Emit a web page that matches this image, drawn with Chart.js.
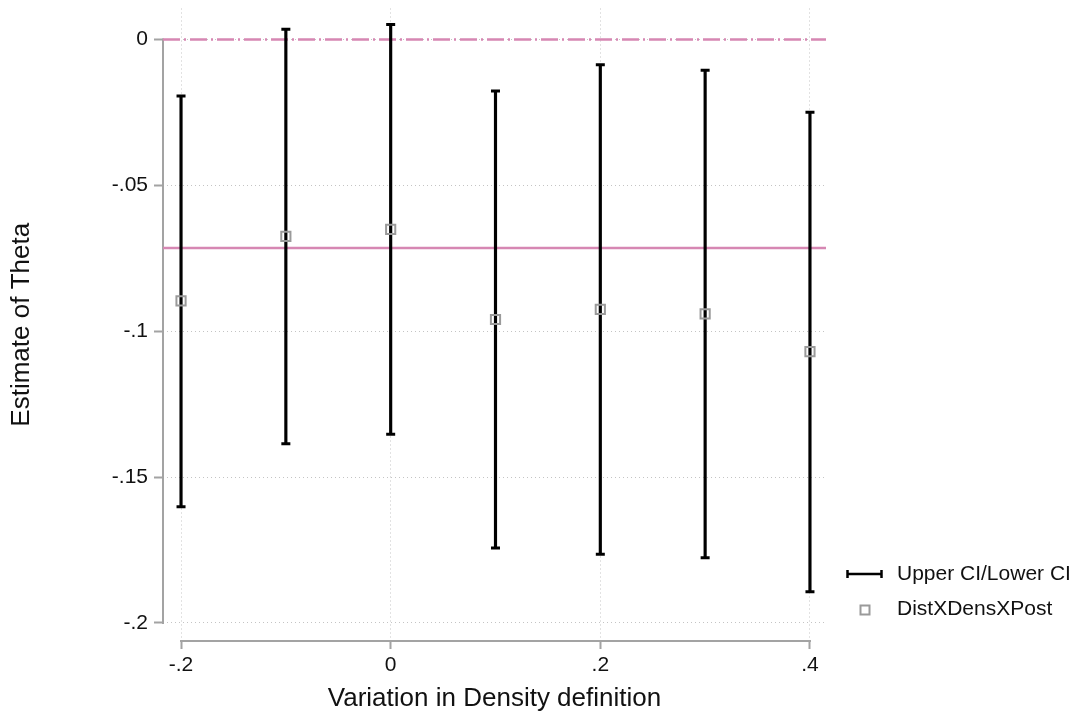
<!DOCTYPE html>
<html>
<head>
<meta charset="utf-8">
<script src="https://cdn.jsdelivr.net/npm/chart.js@4/dist/chart.umd.min.js"></script>
<style>
  body { margin: 0; background: #fff; }
</style>
</head>
<body>
<canvas id="theta-chart" width="1081" height="719"></canvas>
<script>
// values
var xValues = [-0.2, -0.1, 0, 0.1, 0.2, 0.3, 0.4];
var estimates = [-0.0896, -0.0675, -0.0651, -0.0960, -0.0925, -0.0941, -0.1070];
var upperCI = [-0.0194, 0.0035, 0.0051, -0.0177, -0.0087, -0.0106, -0.0250];
var lowerCI = [-0.1602, -0.1386, -0.1353, -0.1743, -0.1765, -0.1777, -0.1893];
var zeroLine = 0;
var meanLine = -0.0715;

var xTicks = [-0.2, 0, 0.2, 0.4];
var xTickLabels = ['-.2', '0', '.2', '.4'];
var yTicks = [-0.2, -0.15, -0.1, -0.05, 0];
var yTickLabels = ['-.2', '-.15', '-.1', '-.05', '0'];
var legendLabels = ['Upper CI/Lower CI', 'DistXDensXPost'];

var xMin = -0.2172, xMax = 0.4153;
var yMin = -0.2062, yMax = 0.0106;

var PINK = '#d687b3';
var AXIS_GRAY = '#a3a3a3';
var MARKER_GRAY = '#9a9a9a';
var FONT = "'Liberation Sans', Arial, sans-serif";

Chart.defaults.font.family = FONT;
Chart.defaults.color = '#111';

// Stata style axis lines that only span the tick range
var axisLines = {
  id: 'axisLines',
  beforeDatasetsDraw: function(chart) {
    var c = chart.ctx, xs = chart.scales.x, ys = chart.scales.y, a = chart.chartArea;
    c.save();
    c.strokeStyle = AXIS_GRAY;
    c.lineWidth = 2;
    c.lineCap = 'square';
    c.beginPath();
    c.moveTo(a.left, ys.getPixelForValue(yTicks[yTicks.length - 1]));
    c.lineTo(a.left, ys.getPixelForValue(yTicks[0]));
    c.moveTo(xs.getPixelForValue(xTicks[0]), a.bottom);
    c.lineTo(xs.getPixelForValue(xTicks[xTicks.length - 1]), a.bottom);
    c.stroke();
    c.restore();
  }
};

var sideLegend = {
  id: 'sideLegend',
  afterDraw: function(chart) {
    var c = chart.ctx;
    c.save();
    // row 1: capped line
    c.strokeStyle = '#000';
    c.lineWidth = 2.5;
    c.beginPath();
    c.moveTo(847, 574); c.lineTo(882, 574);
    c.moveTo(847.5, 570); c.lineTo(847.5, 578);
    c.moveTo(881.5, 570); c.lineTo(881.5, 578);
    c.stroke();
    // row 2: hollow square
    c.strokeStyle = MARKER_GRAY;
    c.lineWidth = 2;
    c.strokeRect(860.5, 605.5, 9, 9);
    c.fillStyle = '#111';
    c.font = '21px ' + FONT;
    c.textBaseline = 'middle';
    c.textAlign = 'left';
    c.fillText(legendLabels[0], 897, 574);
    c.fillText(legendLabels[1], 897, 609);
    c.restore();
  }
};

var ctx = document.getElementById('theta-chart');
var chart = new Chart(ctx, {
  type: 'scatter',
  data: {
    datasets: [{
      label: legendLabels[1],
      data: xValues.map(function(x, i) { return {x: x, y: estimates[i]}; }),
      pointStyle: 'rect',
      pointRadius: 6.5,
      borderColor: MARKER_GRAY,
      borderWidth: 2,
      backgroundColor: 'rgba(0,0,0,0)',
      order: 0
    }, {
      label: 'caps',
      data: xValues.map(function(x, i) { return {x: x, y: upperCI[i]}; })
        .concat(xValues.map(function(x, i) { return {x: x, y: lowerCI[i]}; })),
      pointStyle: 'line',
      pointRadius: 4.5,
      borderColor: '#000',
      borderWidth: 3,
      order: 1
    }, {
      type: 'bar',
      label: legendLabels[0],
      data: xValues.map(function(x, i) { return {x: x, y: [lowerCI[i], upperCI[i]]}; }),
      backgroundColor: '#000',
      borderWidth: 0,
      barThickness: 2.5,
      order: 2
    }, {
      type: 'line',
      label: 'zero',
      data: [{x: xMin, y: zeroLine}, {x: xMax, y: zeroLine}],
      borderColor: PINK,
      borderWidth: 2.5,
      borderDash: [17, 4, 2, 4],
      pointRadius: 0,
      order: 3
    }, {
      type: 'line',
      label: 'mean',
      data: [{x: xMin, y: meanLine}, {x: xMax, y: meanLine}],
      borderColor: PINK,
      borderWidth: 2.5,
      pointRadius: 0,
      order: 3
    }]
  },
  options: {
    responsive: false,
    animation: false,
    events: [],
    layout: { padding: { top: 8, right: 255, bottom: 0, left: 0 } },
    plugins: { legend: { display: false }, tooltip: { enabled: false } },
    scales: {
      x: {
        type: 'linear',
        min: xMin,
        max: xMax,
        offset: false,
        afterBuildTicks: function(s) { s.ticks = xTicks.map(function(v) { return {value: v}; }); },
        afterFit: function(s) { s.height = 78; s.paddingLeft = 0; s.paddingRight = 0; },
        ticks: {
          autoSkip: false,
          maxRotation: 0,
          padding: 4,
          font: { size: 21 },
          color: '#111',
          callback: function(v, i) { return xTickLabels[i]; }
        },
        grid: {
          offset: false,
          color: '#c4c4c4',
          lineWidth: 1,
          tickColor: AXIS_GRAY,
          tickWidth: 2,
          tickLength: 8,
          tickBorderDash: []
        },
        border: { display: false, dash: [1, 3] },
        title: {
          display: true,
          text: 'Variation in Density definition',
          font: { size: 26 },
          color: '#111',
          padding: { top: 4, bottom: 5 }
        }
      },
      y: {
        type: 'linear',
        min: yMin,
        max: yMax,
        beginAtZero: false,
        afterBuildTicks: function(s) { s.ticks = yTicks.map(function(v) { return {value: v}; }); },
        afterFit: function(s) { s.width = 163; s.paddingTop = 0; s.paddingBottom = 0; },
        ticks: {
          padding: 6,
          font: { size: 21 },
          color: '#111',
          callback: function(v, i) { return yTickLabels[i]; }
        },
        grid: {
          color: '#c4c4c4',
          lineWidth: 1,
          tickColor: AXIS_GRAY,
          tickWidth: 2,
          tickLength: 9,
          tickBorderDash: []
        },
        border: { display: false, dash: [1, 3] },
        title: {
          display: true,
          text: 'Estimate of Theta',
          font: { size: 26 },
          color: '#111',
          padding: { top: 6, bottom: 4 }
        }
      }
    }
  },
  plugins: [axisLines, sideLegend]
});
</script>
</body>
</html>
